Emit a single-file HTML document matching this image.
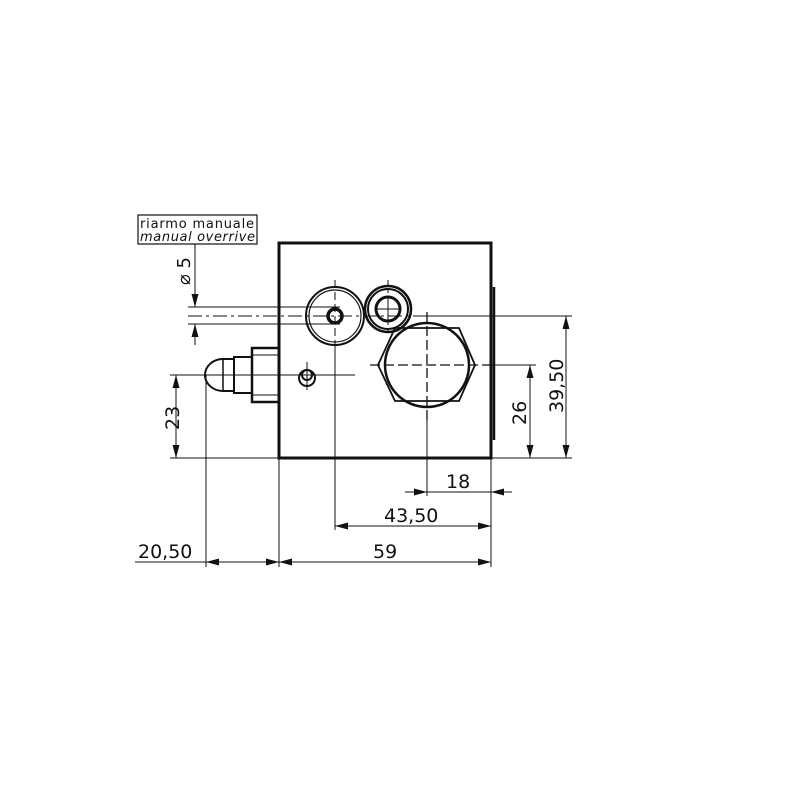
<!DOCTYPE html>
<html><head><style>
body{margin:0;background:#fff}
svg{display:block}
text{font-family:"DejaVu Sans","Liberation Sans",sans-serif;fill:#111}
</style></head><body>
<svg width="800" height="800" viewBox="0 0 800 800" xmlns="http://www.w3.org/2000/svg">
<defs>
<marker id="a" viewBox="0 0 13 7" refX="13" refY="3.5" markerWidth="13" markerHeight="7" orient="auto-start-reverse" markerUnits="userSpaceOnUse"><path d="M0,0L13,3.5L0,7z" fill="#111"/></marker>
</defs>
<g stroke="#111" fill="none" stroke-width="1">
<rect x="279" y="243" width="212" height="215" stroke-width="3"/>
<line x1="494" y1="287" x2="494" y2="440" stroke-width="2.5"/>
<circle cx="335" cy="316" r="29" stroke-width="2"/>
<circle cx="335" cy="316" r="26" stroke-width="1.2"/>
<circle cx="335" cy="316" r="7" stroke-width="3.5"/>
<circle cx="388" cy="309" r="23" stroke-width="2.5"/>
<circle cx="388" cy="309" r="20" stroke-width="2"/>
<circle cx="388" cy="309" r="12" stroke-width="3"/>
<line x1="376" y1="309" x2="400" y2="309"/><line x1="388" y1="297" x2="388" y2="321"/>
<polygon points="378,365 395,328 459,328 475,365 459,401 395,401" stroke-width="1.8"/>
<circle cx="427" cy="365" r="42" stroke-width="2.5"/>
<circle cx="307" cy="378" r="8" stroke-width="2"/>
<circle cx="307" cy="375" r="5" stroke-width="2"/>
<rect x="252" y="348" width="27" height="54" stroke-width="2.5"/>
<line x1="252" y1="355" x2="279" y2="355"/><line x1="252" y1="375" x2="279" y2="375"/><line x1="252" y1="395" x2="279" y2="395"/>
<rect x="234" y="357" width="18" height="36" stroke-width="2"/>
<line x1="234" y1="375" x2="252" y2="375"/>
<path d="M234,359 L223,359 A18,16 0 0 0 223,391 L234,391" stroke-width="2"/>
<line x1="223" y1="359" x2="223" y2="391" stroke-width="1.5"/>
<line x1="188" y1="316" x2="420" y2="316" stroke-dasharray="14,4,3,4"/>
<line x1="335" y1="280" x2="335" y2="350" stroke-dasharray="8,4"/>
<line x1="388" y1="280" x2="388" y2="335" stroke-dasharray="5,3"/>
<line x1="427" y1="312" x2="427" y2="420" stroke-dasharray="10,4" stroke-width="1.3"/>
<line x1="370" y1="365" x2="491" y2="365" stroke-dasharray="10,4" stroke-width="1.3"/>
<line x1="307" y1="362" x2="307" y2="390"/>
<line x1="188" y1="307" x2="340" y2="307"/>
<line x1="188" y1="324" x2="340" y2="324"/>
<line x1="195" y1="244" x2="195" y2="307" marker-end="url(#a)"/>
<line x1="195" y1="345" x2="195" y2="324" marker-end="url(#a)"/>
<rect x="138" y="215" width="119" height="29" stroke-width="1.2"/>
<line x1="170" y1="375" x2="355" y2="375"/>
<line x1="170" y1="458" x2="279" y2="458"/>
<line x1="491" y1="458" x2="572" y2="458"/>
<line x1="420" y1="316" x2="572" y2="316"/>
<line x1="491" y1="365" x2="536" y2="365"/>
<line x1="176" y1="416" x2="176" y2="375" marker-end="url(#a)"/>
<line x1="176" y1="416" x2="176" y2="458" marker-end="url(#a)"/>
<line x1="530" y1="410" x2="530" y2="365" marker-end="url(#a)"/>
<line x1="530" y1="410" x2="530" y2="458" marker-end="url(#a)"/>
<line x1="566" y1="390" x2="566" y2="316" marker-end="url(#a)"/>
<line x1="566" y1="390" x2="566" y2="458" marker-end="url(#a)"/>
<line x1="206" y1="375" x2="206" y2="567"/>
<line x1="279" y1="458" x2="279" y2="567"/>
<line x1="335" y1="345" x2="335" y2="530"/>
<line x1="427" y1="420" x2="427" y2="496"/>
<line x1="491" y1="458" x2="491" y2="567"/>
<line x1="405" y1="492" x2="427" y2="492" marker-end="url(#a)"/>
<line x1="427" y1="492" x2="491" y2="492"/>
<line x1="512" y1="492" x2="491" y2="492" marker-end="url(#a)"/>
<line x1="413" y1="526" x2="335" y2="526" marker-end="url(#a)"/>
<line x1="413" y1="526" x2="491" y2="526" marker-end="url(#a)"/>
<line x1="385" y1="562" x2="279" y2="562" marker-end="url(#a)"/>
<line x1="385" y1="562" x2="491" y2="562" marker-end="url(#a)"/>
<line x1="135" y1="562" x2="206" y2="562"/>
<line x1="240" y1="562" x2="206" y2="562" marker-end="url(#a)"/>
<line x1="240" y1="562" x2="279" y2="562" marker-end="url(#a)"/>
</g>
<text x="140" y="228" font-size="13" textLength="114">riarmo manuale</text>
<text x="140" y="241" font-size="13" font-style="italic" textLength="115">manual overrive</text>
<text transform="translate(190,285) rotate(-90)" font-size="18">⌀ 5</text>
<text transform="translate(179,430) rotate(-90)" font-size="19">23</text>
<text transform="translate(526,425) rotate(-90)" font-size="19">26</text>
<text transform="translate(563,413) rotate(-90)" font-size="19">39,50</text>
<text x="446" y="488" font-size="19">18</text>
<text x="384" y="522" font-size="19">43,50</text>
<text x="373" y="558" font-size="19">59</text>
<text x="138" y="558" font-size="19">20,50</text>
</svg>
</body></html>
